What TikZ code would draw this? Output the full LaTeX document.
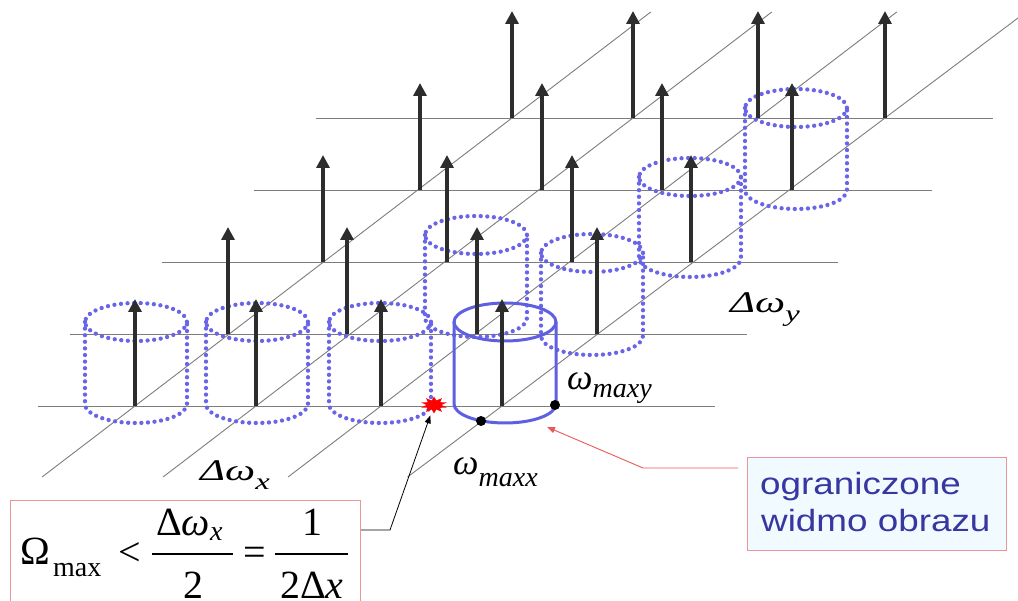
\documentclass[tikz,border=0pt]{standalone}
\usepackage{fontspec}
\usepackage{graphicx}
\setmainfont{Liberation Serif}
\newfontfamily\sansf{Liberation Sans}
\usetikzlibrary{arrows.meta,calc,shapes.geometric}
\definecolor{dotblue}{RGB}{105,100,232}
\definecolor{solidblue}{RGB}{95,95,225}
\definecolor{arrgray}{RGB}{45,45,45}
\definecolor{gridgray}{RGB}{125,125,125}
\definecolor{boxred}{RGB}{235,150,150}
\definecolor{boxfill}{RGB}{241,251,255}
\definecolor{txtblue}{RGB}{55,55,160}
\definecolor{linkred}{RGB}{232,90,90}
\begin{document}
\begin{tikzpicture}[x=1pt,y=-1pt,
  gridline/.style={draw=gridgray, line width=0.9pt},
  spike/.style={draw=arrgray, line width=4pt, -{Triangle[width=13pt,length=13pt]}},
  dotcyl/.style={draw=dotblue, line width=4.3pt, dash pattern=on 0pt off 6.6pt, line cap=round},
  solidcyl/.style={draw=solidblue, line width=3pt},
  lab/.style={inner sep=0pt, anchor=base west, text=black},
  frm/.style={inner sep=0pt, text=black, font=\fontsize{40}{40}\selectfont},
  conn/.style={draw=black, line width=0.8pt, -{Triangle[width=6pt,length=8pt]}},
  rconn/.style={draw=linkred, line width=0.9pt, -{Triangle[width=6pt,length=8pt]}},
  boxtext/.style={inner sep=0pt, anchor=base west, text=txtblue, font=\sansf\fontsize{30.7}{37}\selectfont},
  ]
\useasboundingbox (0,0) rectangle (1018,601);
\clip (0,0) rectangle (1018,601);
\fill[white] (0,0) rectangle (1018,601);

% grid points
\foreach \r/\y/\a/\b/\c/\d in {0/406/135/256/381/502, 1/334/228/347/477/597, 2/262/323/447/572/691, 3/190/420/542/662/792, 4/118/512/633/758/885}{
  \coordinate (p\r0) at (\a,\y);
  \coordinate (p\r1) at (\b,\y);
  \coordinate (p\r2) at (\c,\y);
  \coordinate (p\r3) at (\d,\y);
}

% horizontal grid lines
\foreach \y/\xa/\xb in {406/38/715, 334/70/747, 262/162/838, 190/254/932, 118/316/993}{
  \draw[gridline] (\xa,\y) -- (\xb,\y);
}
% diagonal grid lines
\foreach \c in {0,...,3}{
  \draw[gridline] ($(p0\c)!-0.2465!(p4\c)$) -- ($(p0\c)!1.368!(p4\c)$);
}

% dotted cylinders
\foreach \cx/\by/\ty in {136/404/322, 257/404/322, 380/404/322, 476/318/235, 592/336/253, 690/258/177, 796/190/108}{
  \draw[dotcyl] (\cx,\ty) ellipse [x radius=51, y radius=19];
  \draw[dotcyl] ({\cx-51},\ty) -- ({\cx-51},\by) arc [start angle=180, end angle=0, x radius=51, y radius=19] -- ({\cx+51},\ty);
}
% solid cylinder
\draw[solidcyl] (505,322) ellipse [x radius=51, y radius=19];
\draw[solidcyl] (454,322) -- (454,404) arc [start angle=180, end angle=0, x radius=51, y radius=19] -- (556,322);

% spikes
\foreach \r in {0,...,4}{
  \foreach \c in {0,...,3}{
    \draw[spike] (p\r\c) -- ++(0,-107);
  }
}

% marker dots and burst
\node[circle, fill=black, inner sep=0pt, minimum size=10pt] (dotx) at (481,421) {};
\node[circle, fill=black, inner sep=0pt, minimum size=10pt] (doty) at (555,405) {};
\node[star, star points=10, star point ratio=1.8, fill=red, inner sep=0pt, minimum size=17pt, xscale=1.6] (burst) at (434,405) {};

% labels
\node[lab] (dwy) at (730,313) {\scalebox{1.42}[1]{\fontsize{30}{30}\selectfont\itshape Δω\raisebox{-0.28em}{\fontsize{23}{23}\selectfont y}}};
\node[lab] (dwx) at (200,481) {\scalebox{1.42}[1]{\fontsize{30}{30}\selectfont\itshape Δω\raisebox{-0.28em}{\fontsize{23}{23}\selectfont x}}};
\node[lab] (wmy) at (567,390) {\fontsize{36}{36}\selectfont\itshape ω\raisebox{-0.22em}{\fontsize{28}{28}\selectfont maxy}};
\node[lab] (wmx) at (453,475) {\fontsize{36}{36}\selectfont\itshape ω\raisebox{-0.33em}{\fontsize{28}{28}\selectfont maxx}};

% formula box
\node[draw=boxred, line width=1.2pt, fill=white, anchor=north west, minimum width=350pt, minimum height=130pt, inner sep=0pt] (fbox) at (10,500) {};
\node[frm, anchor=base west] (om) at (20,564) {Ω};
\node[inner sep=0pt, anchor=base west, font=\fontsize{28}{28}\selectfont] (mx) at (53,576) {max};
\node[frm, anchor=base west] (lt) at (118,565) {<};
\node[frm, anchor=base west] (num1) at (156,535) {Δ\textit{ω}\raisebox{-0.15em}{\fontsize{28}{28}\selectfont\itshape x}};
\draw[line width=1.8pt] (152,554) -- (233,554);
\node[frm, anchor=base] (den1) at (193,598) {2};
\node[frm, anchor=base west] (eq) at (243,565) {=};
\node[frm, anchor=base] (num2) at (312,535) {1};
\draw[line width=1.8pt] (275,554) -- (348,554);
\node[frm, anchor=base west] (den2) at (280,598) {2Δ\textit{x}};

% right box
\node[draw=boxred, line width=1.2pt, fill=boxfill, anchor=north west, minimum width=259pt, minimum height=93pt, inner sep=0pt] (rbox) at (747,457) {};
\node[boxtext] (t1) at (760,495) {\scalebox{1.2}[1]{ograniczone}};
\node[boxtext] (t2) at (761,532) {\scalebox{1.2}[1]{widmo obrazu}};

% connectors
\coordinate (bk) at (390,530);
\draw[conn, shorten >=5pt] ($(fbox.north east)+(0,30)$) -- (bk) -- (burst);
\coordinate (rk) at (643,468);
\coordinate (spec) at (547,427);
\draw[rconn, shorten <=9pt] ($(rbox.north west)+(0,11)$) -- (rk) -- (spec);
\end{tikzpicture}
\end{document}
